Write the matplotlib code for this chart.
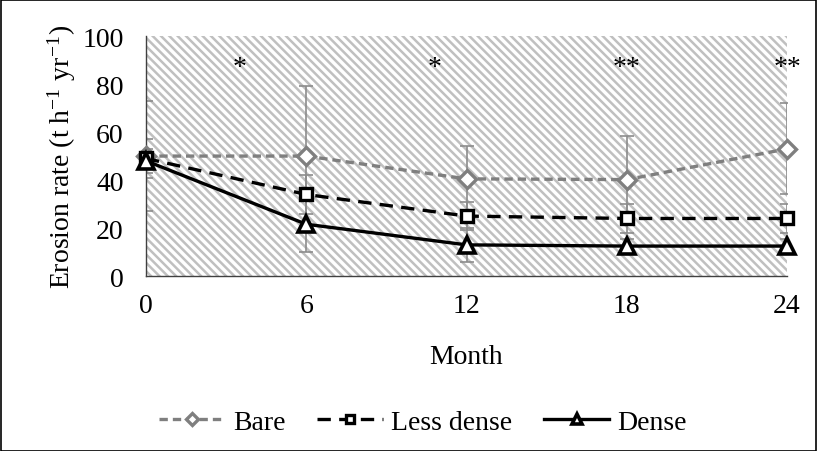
import matplotlib.pyplot as plt
from matplotlib.patches import Rectangle

plt.rcParams['font.family'] = ['Liberation Serif', 'DejaVu Serif']
plt.rcParams['mathtext.fontset'] = 'stix'
plt.rcParams['hatch.linewidth'] = 1.8

months = [0, 6, 12, 18, 24]
bare = [50, 50, 40.5, 40.2, 53]
bare_err = [23, 29, 13.5, 18.3, 19]
less_dense = [49, 34, 25, 24, 24]
less_dense_err = [8, 8, 6, 6, 6]
dense = [48, 21.6, 13, 12.5, 12.5]
dense_err = [5, 11.6, 7, 3, 3]

# significance marks
sig_x = [3.5, 10.8, 18, 24]
sig_labels = ['*', '*', '**', '**']
sig_y = 87

fig = plt.figure(figsize=(8.17, 4.52), dpi=100)
ax = fig.add_axes([0.1787, 0.387, 0.7846, 0.531])

# hatched plot area
bg = Rectangle((0, 0), 1, 1, transform=ax.transAxes, facecolor='white',
               edgecolor='#c0c0c0', linewidth=0, hatch='\\\\\\\\', zorder=0)
ax.add_patch(bg)

err_kw = dict(fmt='none', ecolor='#8c8c8c', elinewidth=1.2, capsize=5, capthick=1.2, zorder=2)
ax.errorbar(months, bare, yerr=bare_err, **err_kw)
ax.errorbar(months, less_dense, yerr=less_dense_err, **err_kw)
ax.errorbar(months, dense, yerr=dense_err, **err_kw)

ax.plot(months, bare, color='#7f7f7f', linestyle=(0, (2.5, 1.5)), linewidth=2.4,
        marker='D', markersize=9, markerfacecolor='white', markeredgecolor='#7f7f7f',
        markeredgewidth=2.4, label='Bare', zorder=4, clip_on=False)
ax.plot(months, less_dense, color='black', linestyle=(0, (4, 2.5)), linewidth=2.4,
        marker='s', markersize=9, markerfacecolor='white', markeredgecolor='black',
        markeredgewidth=2.4, label='Less dense', zorder=4, clip_on=False)
ax.plot(months, dense, color='black', linestyle='-', linewidth=2.4,
        marker='^', markersize=11, markerfacecolor='white', markeredgecolor='black',
        markeredgewidth=2.6, label='Dense', zorder=5, clip_on=False)

for x, s in zip(sig_x, sig_labels):
    ax.text(x, sig_y, s, ha='center', va='center', fontsize=20)

ax.set_xlim(0, 24)
ax.set_ylim(0, 100)
ax.set_xticks(months)
ax.set_yticks([0, 20, 40, 60, 80, 100])
ax.tick_params(length=0, labelsize=20)
ax.tick_params(axis='x', pad=12)
ax.tick_params(axis='y', pad=16)
for side in ['top', 'right']:
    ax.spines[side].set_visible(False)
for side in ['left', 'bottom']:
    ax.spines[side].set_color('#404040')
    ax.spines[side].set_linewidth(1)

ax.set_xlabel('Month', fontsize=20, labelpad=19)
ax.set_ylabel('Erosion rate (t h$^{\\mathregular{-1}}$ yr$^{\\mathregular{-1}}$)', fontsize=20,
              labelpad=3)

fig.legend(loc='center', bbox_to_anchor=(0.518, 0.064), ncol=3, frameon=False,
           fontsize=20, handlelength=2.35, columnspacing=1.15, handletextpad=0.3,
           markerscale=0.7)

fig.add_artist(Rectangle((0.001, 0.001), 0.998, 0.997, transform=fig.transFigure,
                         fill=False, edgecolor='black', linewidth=1.2))

fig.savefig('out.png', dpi=100)
